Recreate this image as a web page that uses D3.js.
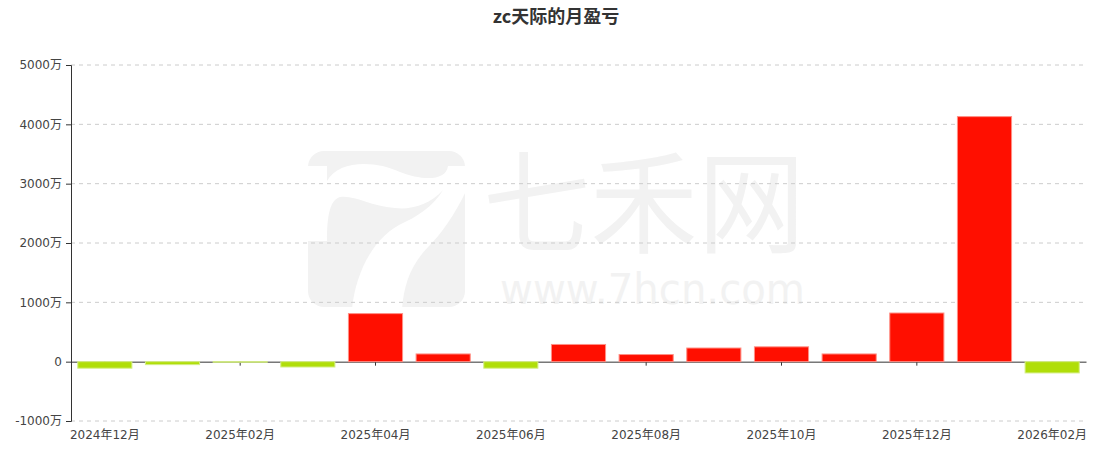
<!DOCTYPE html>
<html>
<head>
<meta charset="utf-8">
<script src="https://cdn.jsdelivr.net/npm/d3@7/dist/d3.min.js"></script>
<style>
  body { margin: 0; background: #fff; }
  svg text { font-family: "DejaVu Sans", "Noto Sans CJK SC", sans-serif; }
</style>
</head>
<body>
<svg class="s1" width="1104" height="454"></svg>
<script>
// monthly profit / loss, unit: 万
var months = ["2024年12月","2025年01月","2025年02月","2025年03月","2025年04月","2025年05月",
              "2025年06月","2025年07月","2025年08月","2025年09月","2025年10月","2025年11月",
              "2025年12月","2026年01月","2026年02月"];
var profit = [-110, -50, -10, -90, 810, 130, -110, 290, 120, 230, 250, 130, 820, 4130, -190];
var yTicks = [-1000, 0, 1000, 2000, 3000, 4000, 5000];
var title = "zc天际的月盈亏";

var svg = d3.select("svg.s1"),
    margin = {top: 65, right: 18, bottom: 33, left: 71},
    width = svg.attr("width") - margin.left - margin.right,
    height = svg.attr("height") - margin.top - margin.bottom;

// watermark (behind everything)
var wm = svg.append("g").attr("class", "watermark");
wm.append("rect")
    .attr("x", 308).attr("y", 151).attr("width", 157).attr("height", 156)
    .attr("rx", 16).attr("fill", "#f2f2f2");
wm.append("path")
    .attr("fill", "#fff")
    .attr("d", "M306,166 H327 V181 C338,160 375,160 400,172 C420,180 446,182 448,166 H467 V189 " +
               "C455,215 440,235 430,245 C410,265 404,285 402,309 H352 C356,270 375,235 405,222 " +
               "C425,213 437,200 443,190 C430,205 410,210 395,208 C370,206 355,195 340,197 " +
               "C330,200 327,215 327,241 H306 Z");
wm.append("text")
    .attr("x", 483).attr("y", 245)
    .attr("textLength", 322).attr("lengthAdjust", "spacingAndGlyphs")
    .style("font-family", "'Noto Sans CJK SC', sans-serif")
    .style("font-size", "112px").style("font-weight", 400)
    .attr("fill", "#f2f2f2")
    .text("七禾网");
wm.append("text")
    .attr("x", 500).attr("y", 304)
    .attr("textLength", 305).attr("lengthAdjust", "spacingAndGlyphs")
    .style("font-family", "'DejaVu Sans', sans-serif")
    .style("font-size", "42px")
    .attr("fill", "#f2f2f2")
    .text("www.7hcn.com");

var g = svg.append("g").attr("transform", "translate(" + margin.left + "," + margin.top + ")");

var x = d3.scaleBand().domain(months).range([0, width]).paddingInner(0.2).paddingOuter(0.1);
var y = d3.scaleLinear().domain([-1000, 5000]).range([height, 0]);

// gridlines
g.append("g").attr("class", "grid")
  .selectAll("line")
  .data(yTicks.filter(function(d) { return d != 0; }))
  .enter().append("line")
    .attr("x1", 0).attr("x2", width)
    .attr("y1", function(d) { return y(d); })
    .attr("y2", function(d) { return y(d); })
    .attr("stroke", "#cccccc")
    .attr("stroke-dasharray", "4,4");

// y axis
var yAxis = g.append("g")
    .attr("class", "axis axis--y")
    .call(d3.axisLeft(y).tickValues(yTicks).tickSize(5).tickPadding(4)
      .tickFormat(function(d) { return d == 0 ? "0" : d + "万"; }));
yAxis.select(".domain").attr("stroke", "#333");
yAxis.selectAll(".tick line").attr("stroke", "#333");
yAxis.selectAll("text").attr("fill", "#444").style("font-size", "12px");

// x axis on zero line, labels at bottom
var xAxis = g.append("g")
    .attr("class", "axis axis--x")
    .attr("transform", "translate(0," + y(0) + ")")
    .call(d3.axisBottom(x).tickValues(months.filter(function(d, i) { return i % 2 == 0; }))
      .tickSize(4).tickSizeOuter(0).tickFormat(""));
xAxis.select(".domain").attr("stroke", "#333");
xAxis.selectAll(".tick line").attr("stroke", "#333");

g.append("g").attr("class", "xlabels")
  .selectAll("text")
  .data(months.filter(function(d, i) { return i % 2 == 0; }))
  .enter().append("text")
    .attr("x", function(d) { return x(d) + x.bandwidth() / 2; })
    .attr("y", height + 14)
    .attr("dy", "0.35em")
    .attr("text-anchor", "middle")
    .attr("fill", "#444")
    .style("font-size", "12px")
    .text(function(d) { return d; });

// bars
g.append("g").attr("class", "bars")
  .selectAll("rect")
  .data(months)
  .enter().append("rect")
    .attr("x", function(d) { return x(d); })
    .attr("width", x.bandwidth())
    .attr("y", function(d, i) { return y(Math.max(0, profit[i])); })
    .attr("height", function(d, i) { return Math.abs(y(profit[i]) - y(0)); })
    .attr("fill", function(d, i) { return profit[i] >= 0 ? "#ff0f00" : "#b0de09"; })
    .attr("stroke", function(d, i) { return profit[i] >= 0 ? "#ff8f85" : "#d4ee86"; })
    .attr("stroke-width", 1);

// title
svg.append("text")
    .attr("x", 556).attr("y", 17)
    .attr("dy", "0.35em")
    .attr("text-anchor", "middle")
    .attr("fill", "#333")
    .style("font-size", "18px")
    .style("font-weight", "bold")
    .style("font-family", "'Noto Sans CJK SC', sans-serif")
    .text(title);
</script>
</body>
</html>
